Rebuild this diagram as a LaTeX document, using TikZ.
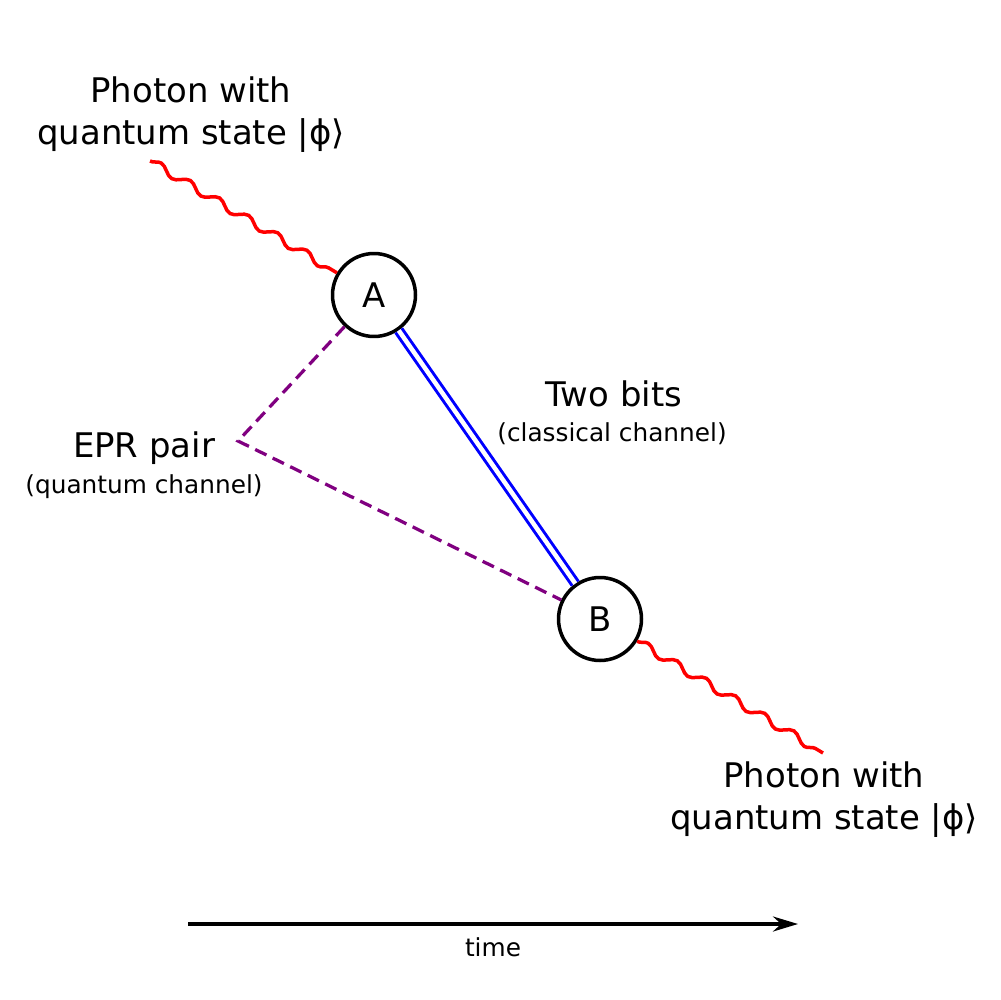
\documentclass[tikz,border=0pt]{standalone}
\usepackage{fontspec}
\setmainfont{DejaVu Sans}
\usetikzlibrary{decorations.pathmorphing,arrows.meta}

\definecolor{eprpurple}{RGB}{128,0,128}

\begin{document}
\begin{tikzpicture}[x=0.02cm,y=-0.02cm,>={Stealth[length=0.5cm,width=0.3cm]},
	big/.style={font=\fontsize{19.3}{23}\selectfont, inner sep=0pt, anchor=base},
	small/.style={font=\fontsize{14.1}{17}\selectfont, inner sep=0pt, anchor=base},
	party/.style={circle, draw, line width=0.07cm, fill=white, minimum size=1.66cm,
		inner sep=0pt, font=\fontsize{19.3}{23}\selectfont},
	photon/.style={draw=red, line width=0.07cm, decorate,
		decoration={snake, amplitude=0.08cm, segment length=0.68cm}},
	quantum/.style={draw=eprpurple, line width=0.065cm, dash pattern=on 0.25cm off 0.14cm},
	classical/.style={draw=blue, double=white, double distance=0.09cm, line width=0.06cm}]

	\useasboundingbox (0,0) rectangle (1000,1000);

	% parties
	\node[party] (A) at (374,295) {A};
	\node[party] (B) at (600,619) {B};

	% photon ends and EPR source
	\coordinate (photonIn) at (150,161);
	\coordinate (photonOut) at (823,753);
	\coordinate (source) at (238,441);

	% time axis ends
	\coordinate (tStart) at (188,924);
	\coordinate (tEnd) at (798,924);

	% photons
	\draw[photon] (photonIn) -- (A);
	\draw[photon] (B) -- (photonOut);

	% quantum channel
	\draw[quantum] (A) -- (source) -- (B);

	% classical channel
	\draw[classical] (A) -- (B);

	% time
	\draw[->, line width=0.065cm] (tStart) -- (tEnd);

	% annotations
	\node[big] (inTop) at (191,103) {Photon with};
	\node[big] (inBot) at (191,145) {quantum state |ϕ⟩};

	\node[big] (outTop) at (824,787) {Photon with};
	\node[big] (outBot) at (824,829) {quantum state |ϕ⟩};

	\node[big] (bits) at (614,406) {Two bits};
	\node[small] (bitsSub) at (612,441) {(classical channel)};

	\node[big] (epr) at (144,457) {EPR pair};
	\node[small] (eprSub) at (144,493) {(quantum channel)};

	\node[small] (time) at (493,956) {time};

\end{tikzpicture}
\end{document}
